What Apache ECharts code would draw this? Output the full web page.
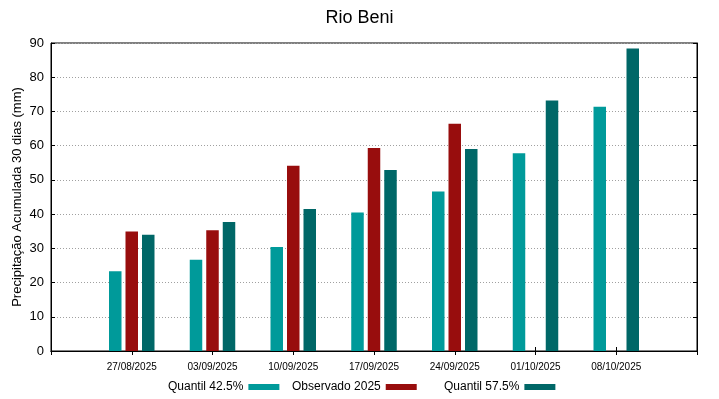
<!DOCTYPE html>
<html>
<head>
<meta charset="utf-8">
<script src="https://cdn.jsdelivr.net/npm/echarts@6/dist/echarts.min.js"></script>
<style>
  html, body { margin: 0; padding: 0; background: #fff; }
  #chart { width: 719px; height: 399px; }
</style>
</head>
<body>
<div id="chart"></div>
<script>
// datas (first/last slots are empty padding on the axis)
const datas = ['', '27/08/2025', '03/09/2025', '10/09/2025', '17/09/2025', '24/09/2025', '01/10/2025', '08/10/2025', ''];
const quantil425 = ['-', 23.3, 26.7, 30.4, 40.5, 46.6, 57.8, 71.4, '-'];
const observado = ['-', 34.9, 35.3, 54.1, 59.3, 66.4, '-', '-', '-'];
const quantil575 = ['-', 34.0, 37.7, 41.5, 52.9, 59.0, 73.2, 88.4, '-'];
const yTicks = [0, 90, 10];

const fonte = 'Liberation Sans';
const cores = ['#009a9a', '#980d0d', '#006767'];
const nomes = ['Quantil 42.5%', 'Observado 2025', 'Quantil 57.5%'];
const legendLeft = [168, 292, 444];

const chart = echarts.init(document.getElementById('chart'));

const tickInside = { show: true, inside: true, length: 4, lineStyle: { color: '#000' } };

const options = {
  animation: false,
  textStyle: { fontFamily: fonte },
  title: {
    text: 'Rio Beni',
    left: 'center',
    top: 4,
    textStyle: { fontFamily: fonte, fontSize: 18, fontWeight: 'normal', color: '#000' }
  },
  legend: nomes.map((n, i) => ({
    data: [n],
    left: legendLeft[i],
    top: 381,
    padding: 0,
    align: 'right',
    icon: 'rect',
    itemWidth: 31,
    itemHeight: 6,
    itemGap: 6,
    textStyle: { fontFamily: fonte, fontSize: 12, color: '#000', padding: [0, 0, 0, 0] }
  })),
  grid: {
    left: 51, right: 22, top: 43, bottom: 48,
    outerBoundsMode: 'none',
    containLabel: false,
    show: true, borderColor: '#000', borderWidth: 1
  },
  xAxis: [
    {
      type: 'category', data: datas, boundaryGap: false,
      axisLine: { lineStyle: { color: '#000' } },
      axisTick: tickInside,
      axisLabel: { fontSize: 10, color: '#000', margin: 11, interval: 0 }
    },
    {
      type: 'category', data: datas, boundaryGap: false, position: 'top',
      axisLine: { lineStyle: { color: '#000' } },
      axisTick: tickInside,
      axisLabel: { show: false }
    }
  ],
  yAxis: [
    {
      type: 'value', min: yTicks[0], max: yTicks[1], interval: yTicks[2],
      name: 'Precipitação Acumulada 30 dias (mm)',
      nameLocation: 'middle', nameGap: 27,
      nameMoveOverlap: false,
      nameTextStyle: { fontSize: 13, color: '#000' },
      axisLine: { show: true, lineStyle: { color: '#000' } },
      axisTick: tickInside,
      axisLabel: { fontSize: 13, color: '#000', margin: 7 },
      splitLine: { show: true, lineStyle: { color: '#a0a0a0', type: [1, 2], width: 1 } }
    },
    {
      type: 'value', min: yTicks[0], max: yTicks[1], interval: yTicks[2], position: 'right',
      axisLine: { show: true, lineStyle: { color: '#000' } },
      axisTick: tickInside,
      axisLabel: { show: false },
      splitLine: { show: false }
    }
  ],
  series: [quantil425, observado, quantil575].map((d, i) => ({
    name: nomes[i],
    type: 'bar',
    data: d,
    barWidth: 12.5,
    barGap: '32%',
    itemStyle: { color: cores[i] }
  }))
};

chart.setOption(options, true);
</script>
</body>
</html>
